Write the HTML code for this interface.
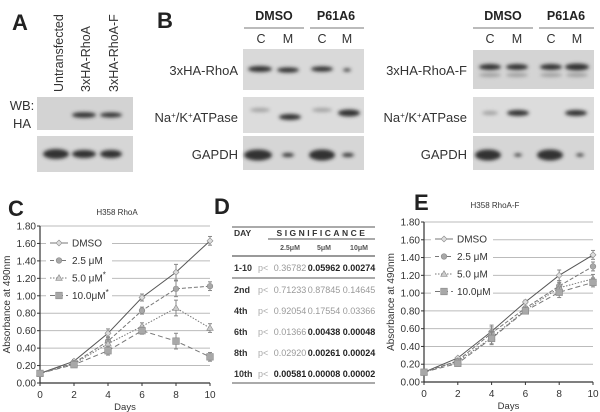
<!DOCTYPE html>
<html><head><meta charset="utf-8">
<style>
body{margin:0;background:#fff;}
svg{display:block;font-family:"Liberation Sans",sans-serif;}
</style></head>
<body>
<svg id="fig" width="600" height="412" viewBox="0 0 600 412">
<defs>
<filter id="blur" x="-30%" y="-100%" width="160%" height="300%"><feGaussianBlur stdDeviation="1.8"/></filter>
</defs>
<!-- Panel A -->
<g>
<text x="12" y="30" font-size="22" font-weight="bold" fill="#222">A</text>
<text transform="translate(63,92) rotate(-90)" font-size="12.5" fill="#333">Untransfected</text>
<text transform="translate(90,92) rotate(-90)" font-size="12.5" fill="#333">3xHA-RhoA</text>
<text transform="translate(118,92) rotate(-90)" font-size="12.5" fill="#333">3xHA-RhoA-F</text>
<text x="22" y="110" font-size="13" text-anchor="middle" fill="#333">WB:</text>
<text x="22" y="128" font-size="13" text-anchor="middle" fill="#333">HA</text>
<rect x="37" y="97" width="96" height="33" fill="#d3d3d3"/>
<rect x="37" y="136" width="96" height="36" fill="#d6d6d6"/>
<g filter="url(#blur)" fill="#333">
<ellipse cx="84" cy="115" rx="12" ry="2.8"/><ellipse cx="111" cy="115" rx="11" ry="2.5"/>
<ellipse cx="56" cy="154" rx="13" ry="5"/><ellipse cx="84" cy="154" rx="12" ry="4"/><ellipse cx="111" cy="154" rx="11" ry="4"/>
</g>
</g>
<!-- Panel B -->
<g>
<text x="157" y="28" font-size="22" font-weight="bold" fill="#222">B</text>
<g font-size="12.5" font-weight="bold" fill="#222" text-anchor="middle">
<text x="274" y="20">DMSO</text><text x="336" y="20">P61A6</text>
<text x="503" y="20">DMSO</text><text x="566" y="20">P61A6</text>
</g>
<g stroke="#777" stroke-width="1">
<line x1="244" y1="28" x2="304" y2="28"/><line x1="310" y1="28" x2="364" y2="28"/>
<line x1="473" y1="28" x2="533" y2="28"/><line x1="539" y1="28" x2="594" y2="28"/>
</g>
<g font-size="12.5" fill="#333" text-anchor="middle">
<text x="261" y="43">C</text><text x="288" y="43">M</text><text x="322" y="43">C</text><text x="347" y="43">M</text>
<text x="490" y="43">C</text><text x="517" y="43">M</text><text x="551" y="43">C</text><text x="577" y="43">M</text>
</g>
<g font-size="13" fill="#333" text-anchor="end">
<text x="238" y="75">3xHA-RhoA</text>
<text x="238" y="122">Na<tspan baseline-shift="super" font-size="8">+</tspan>/K<tspan baseline-shift="super" font-size="8">+</tspan>ATPase</text>
<text x="238" y="159">GAPDH</text>
<text x="467" y="75">3xHA-RhoA-F</text>
<text x="467" y="122">Na<tspan baseline-shift="super" font-size="8">+</tspan>/K<tspan baseline-shift="super" font-size="8">+</tspan>ATPase</text>
<text x="467" y="159">GAPDH</text>
</g>
<rect x="243" y="49" width="121" height="41" fill="#d9d9d9"/>
<rect x="243" y="97" width="121" height="36" fill="#dcdcdc"/>
<rect x="243" y="136" width="121" height="34" fill="#d6d6d6"/>
<rect x="473" y="50" width="121" height="39" fill="#d4d4d4"/>
<rect x="473" y="97" width="121" height="36" fill="#dcdcdc"/>
<rect x="473" y="136" width="121" height="34" fill="#d6d6d6"/>
<g filter="url(#blur)" fill="#333">
<ellipse cx="260" cy="69" rx="12" ry="3"/><ellipse cx="288" cy="70" rx="11" ry="2.6"/><ellipse cx="322" cy="69" rx="11" ry="2.6"/><ellipse cx="347" cy="70" rx="4" ry="1.5"/>
<ellipse cx="290" cy="117" rx="11" ry="3"/><ellipse cx="349" cy="113" rx="11" ry="3.5"/>
<ellipse cx="258" cy="155" rx="14" ry="5.5"/><ellipse cx="288" cy="155" rx="6" ry="2"/><ellipse cx="322" cy="155" rx="13" ry="5.5"/><ellipse cx="348" cy="155" rx="6" ry="2"/>
<ellipse cx="490" cy="67" rx="11" ry="3"/><ellipse cx="517" cy="67" rx="11" ry="3"/><ellipse cx="551" cy="67" rx="11" ry="3"/><ellipse cx="577" cy="67" rx="12" ry="3.5"/>
<ellipse cx="518" cy="113" rx="11" ry="3"/><ellipse cx="576" cy="113" rx="11" ry="3"/>
<ellipse cx="488" cy="155" rx="13" ry="5.5"/><ellipse cx="518" cy="155" rx="4" ry="1.5"/><ellipse cx="550" cy="155" rx="13" ry="5.5"/><ellipse cx="580" cy="155" rx="4" ry="1.5"/>
</g>
<g filter="url(#blur)" fill="#888" opacity="0.7">
<ellipse cx="490" cy="75" rx="11" ry="2"/><ellipse cx="517" cy="75" rx="11" ry="2"/><ellipse cx="551" cy="75" rx="11" ry="2"/><ellipse cx="577" cy="75" rx="11" ry="2"/>
<ellipse cx="260" cy="110" rx="10" ry="2"/><ellipse cx="322" cy="110" rx="10" ry="2"/><ellipse cx="490" cy="113" rx="8" ry="2"/>
</g>
</g>
<!-- Panel D table -->
<g font-size="9.5">
<text x="214" y="214" font-size="22" font-weight="bold" fill="#222">D</text>
<line x1="232" y1="227" x2="375" y2="227" stroke="#555"/>
<text x="234" y="236" font-weight="bold" font-size="8.5" fill="#333">DAY</text>
<text x="322" y="236" font-weight="bold" font-size="8.5" fill="#333" text-anchor="middle" letter-spacing="2.5">SIGNIFICANCE</text>
<line x1="268" y1="239" x2="375" y2="239" stroke="#555"/>
<g font-size="7" font-weight="bold" fill="#555" text-anchor="middle"><text x="290" y="250">2.5μM</text><text x="324" y="250">5μM</text><text x="359" y="250">10μM</text></g>
<line x1="232" y1="256" x2="375" y2="256" stroke="#999" stroke-width="2"/>
<g id="rows"></g>
<line x1="232" y1="278" x2="375" y2="278" stroke="#555"/>
<line x1="232" y1="383" x2="375" y2="383" stroke="#555"/>
</g>
<g id="chartC"></g>
<g id="chartE"></g>
</svg>
<script>
const days=[0,2,4,6,8,10];
const seriesNames=["DMSO","2.5 μM","5.0 μM","10.0μM"];
const yTicks=[0,0.2,0.4,0.6,0.8,1.0,1.2,1.4,1.6,1.8];
const xTicks=[0,2,4,6,8,10];
const cDMSO=[0.11,0.25,0.57,0.98,1.27,1.63];
const c25=[0.11,0.23,0.48,0.83,1.08,1.11];
const c50=[0.11,0.22,0.45,0.65,0.86,0.63];
const c100=[0.11,0.21,0.37,0.60,0.48,0.30];
const cErr=[0.02,0.02,0.05,0.04,0.09,0.05];
const eDMSO=[0.11,0.27,0.57,0.90,1.20,1.43];
const e25=[0.11,0.24,0.55,0.83,1.08,1.30];
const e50=[0.11,0.23,0.50,0.81,1.06,1.16];
const e100=[0.11,0.21,0.49,0.80,1.01,1.12];
const eErr=[0.01,0.01,0.07,0.02,0.06,0.05];
const tDays=["1-10","2nd","4th","6th","8th","10th"];
const tP25=["0.36782","0.71233","0.92054","0.01366","0.02920","0.00581"];
const tP5=["0.05962","0.87845","0.17554","0.00438","0.00261","0.00008"];
const tP10=["0.00274","0.14645","0.03366","0.00048","0.00024","0.00002"];
const tBold=[[0,1,1],[0,0,0],[0,0,0],[0,1,1],[0,1,1],[1,1,1]];
const NS="http://www.w3.org/2000/svg";
function mk(parent,tag,attrs,txt){const e=document.createElementNS(NS,tag);for(const k in attrs)e.setAttribute(k,attrs[k]);if(txt!==undefined)e.textContent=txt;parent.appendChild(e);return e;}

const rows=document.getElementById('rows');
const rowY=[271,293,314,335,356,377];
tDays.forEach((d,i)=>{
  const t=mk(rows,'text',{x:234,y:rowY[i],'font-weight':'bold',fill:'#333','font-size':9},d);
  
  
  mk(rows,'text',{x:258,y:rowY[i],fill:'#aaa','font-size':9},'p<');
  [tP25,tP5,tP10].forEach((arr,j)=>{
    const b=tBold[i][j];
    const c=mk(rows,'text',{x:[290,324,359][j],y:rowY[i],'text-anchor':'middle','font-size':9,fill:b?'#222':'#999','font-weight':b?'bold':'normal'},arr[i]);
    
    
  });
});

function chart(g,cfg){
  const X=v=>cfg.x0+(cfg.x1-cfg.x0)*v/10;
  const Y=v=>cfg.y0-(cfg.y0-cfg.y1)*v/1.8;
  mk(g,'text',{x:cfg.lx,y:cfg.ly,'font-size':22,'font-weight':'bold',fill:'#222'},cfg.letter);
  const tt=mk(g,'text',{x:cfg.tx,y:cfg.ty,'font-size':8,'text-anchor':'middle',fill:'#333'},cfg.title);
  
  
  yTicks.forEach(v=>{
    if(v>0) mk(g,'line',{x1:cfg.x0,x2:cfg.x1,y1:Y(v),y2:Y(v),stroke:'#bbb','stroke-width':1});
    mk(g,'line',{x1:cfg.x0-3,x2:cfg.x0,y1:Y(v),y2:Y(v),stroke:'#333'});
    const t=mk(g,'text',{x:cfg.x0-4,y:Y(v)+3.5,'font-size':10,'text-anchor':'end',fill:'#333'},v.toFixed(2));
    
    
  });
  xTicks.forEach(v=>{
    mk(g,'line',{x1:X(v),x2:X(v),y1:cfg.y0,y2:cfg.y0+3,stroke:'#333'});
    const t=mk(g,'text',{x:X(v),y:cfg.y0+15,'font-size':10,'text-anchor':'middle',fill:'#333'},v);
    
    
  });
  mk(g,'line',{x1:cfg.x0,x2:cfg.x1,y1:cfg.y0,y2:cfg.y0,stroke:'#333','stroke-width':1.2});
  mk(g,'line',{x1:cfg.x0,x2:cfg.x0,y1:cfg.y0,y2:cfg.y1,stroke:'#333','stroke-width':1.2});
  const xt=mk(g,'text',{x:(cfg.x0+cfg.x1)/2,y:cfg.y0+27,'font-size':9.5,'text-anchor':'middle',fill:'#333'},'Days');
  
  
  const yc=(cfg.y0+cfg.y1)/2;
  const yt=mk(g,'text',{x:0,y:0,'font-size':10,'text-anchor':'middle',fill:'#333',transform:`translate(${cfg.x0-30},${yc}) rotate(-90)`},'Absorbance at 490nm');
  
  
  const dashes=["none","4,2","1.5,1.5","5,3"];
  const shapes=["diamond","circle","triangle","square"];
  function marker(p,s,x,y){
    const a={fill:'#a8a8a8',stroke:'#888','stroke-width':0.6};
    if(s=='diamond') return mk(p,'path',{d:`M${x},${y-3}L${x+3},${y}L${x},${y+3}L${x-3},${y}Z`,fill:'#ddd',stroke:'#888','stroke-width':0.6});
    if(s=='circle') return mk(p,'circle',Object.assign({cx:x,cy:y,r:2.8},a));
    if(s=='triangle') return mk(p,'path',{d:`M${x},${y-3.3}L${x+3.3},${y+2.3}L${x-3.3},${y+2.3}Z`,fill:'#ccc',stroke:'#888','stroke-width':0.6});
    return mk(p,'rect',Object.assign({x:x-3.3,y:y-3.3,width:6.6,height:6.6},a));
  }
  cfg.series.forEach((vals,si)=>{
    const sg=mk(g,'g',{});
    
    
    const pts=vals.map((v,i)=>X(days[i])+','+Y(v)).join(' ');
    mk(sg,'polyline',{points:pts,fill:'none',stroke:si==0?'#555':'#777','stroke-width':1,'stroke-dasharray':dashes[si]});
    vals.forEach((v,i)=>{
      const e=cfg.err[i];
      mk(sg,'line',{x1:X(days[i]),x2:X(days[i]),y1:Y(v-e),y2:Y(v+e),stroke:'#888'});
      mk(sg,'line',{x1:X(days[i])-2,x2:X(days[i])+2,y1:Y(v+e),y2:Y(v+e),stroke:'#888'});
      mk(sg,'line',{x1:X(days[i])-2,x2:X(days[i])+2,y1:Y(v-e),y2:Y(v-e),stroke:'#888'});
      const m=marker(sg,shapes[si],X(days[i]),Y(v));
      
      
    });
  });
  const lg=mk(g,'g',{});
  
  
  mk(lg,'rect',{x:cfg.legX-4,y:cfg.legY-8,width:cfg.legW,height:66,fill:'#fff'});
  seriesNames.forEach((n,i)=>{
    const y=cfg.legY+i*17.5;
    const e=mk(lg,'g',{});
    
    
    mk(e,'line',{x1:cfg.legX,x2:cfg.legX+18,y1:y,y2:y,stroke:'#777','stroke-dasharray':dashes[i]});
    marker(e,shapes[i],cfg.legX+9,y);
    const t=mk(e,'text',{x:cfg.legX+22,y:y+3.5,'font-size':10,fill:'#333'},n);
    if(cfg.star&&i>=2){const s=mk(t,'tspan',{dy:-4,'font-size':8},'*');}
  });
}
chart(document.getElementById('chartC'),{x0:40,x1:210,y0:383,y1:226,letter:'C',lx:8,ly:216,title:'H358 RhoA',tx:117,ty:215,
  series:[cDMSO,c25,c50,c100],err:cErr,legX:50,legY:243,legW:66,star:true});
chart(document.getElementById('chartE'),{x0:424,x1:593,y0:382,y1:222,letter:'E',lx:414,ly:210,title:'H358 RhoA-F',tx:495,ty:208,
  series:[eDMSO,e25,e50,e100],err:eErr,legX:435,legY:239,legW:62,star:false});
</script>
</body></html>
